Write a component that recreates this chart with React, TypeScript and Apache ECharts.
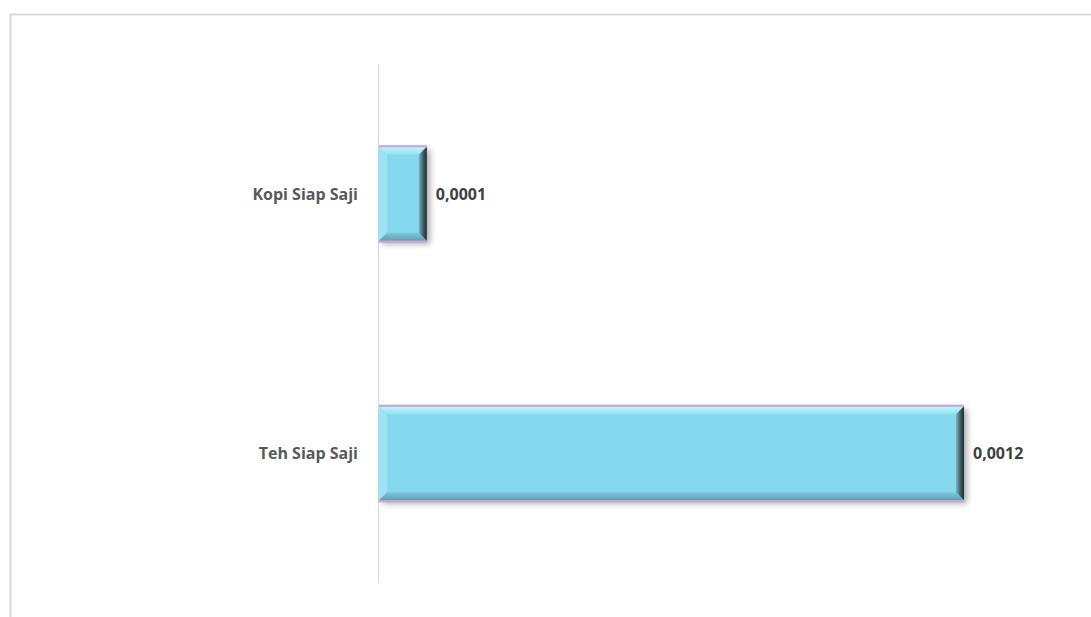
import React, { useEffect, useRef } from "react";
import * as echarts from "echarts";

const categories: string[] = ["Kopi Siap Saji", "Teh Siap Saji"];
const values: number[] = [0.0001, 0.0012];
const valueLabels: string[] = ["0,0001", "0,0012"];

export default function App() {
  const ref = useRef<HTMLDivElement>(null);
  useEffect(() => {
    if (!ref.current) return;
    const chart = echarts.init(ref.current, undefined, { renderer: "svg" });
    const data = values.map((v, i) => [v, i]);
    const option: any = {
      animation: false,
      backgroundColor: "#ffffff",
      grid: { left: 378, right: 127, top: 64, bottom: 34, containLabel: false },
      xAxis: { type: "value", min: 0, max: 0.0012, show: false },
      yAxis: {
        type: "category",
        data: categories,
        inverse: true,
        axisLine: { show: true, lineStyle: { color: "#d9d9d9", width: 1 } },
        axisTick: { show: false },
        axisLabel: {
          margin: 20,
          fontFamily: "Open Sans",
          fontWeight: "bold",
          fontSize: 16,
          color: "#595959",
        },
        splitLine: { show: false },
      },
      graphic: [
        { type: "line", shape: { x1: 10, y1: 14.5, x2: 1091, y2: 14.5 }, style: { stroke: "#d9d9d9", lineWidth: 2 } },
        { type: "line", shape: { x1: 10.5, y1: 14, x2: 10.5, y2: 617 }, style: { stroke: "#d9d9d9", lineWidth: 2 } },
      ],
      series: [
        {
          type: "custom",
          encode: { x: 0, y: 1 },
          data: data,
          renderItem: (params: any, api: any) => {
            const idx = api.value(1);
            const start = api.coord([0, idx]);
            const end = api.coord([api.value(0), idx]);
            const band = api.size([0, 1])[1];
            const h = band * 0.362;
            const x0 = start[0] + 1;
            const x1 = end[0];
            const y0 = start[1] - h / 2;
            const y1 = start[1] + h / 2;
            const b = 8;
            const label = valueLabels[params.dataIndex];
            return {
              type: "group",
              children: [
                {
                  type: "rect",
                  shape: { x: x0, y: y0, width: x1 - x0, height: y1 - y0 },
                  style: {
                    fill: "#86d8ee",
                    shadowBlur: 6,
                    shadowOffsetX: 3,
                    shadowOffsetY: 3,
                    shadowColor: "rgba(0,0,0,0.35)",
                  },
                },
                {
                  type: "polygon",
                  shape: { points: [[x0, y0], [x1, y0], [x1 - b, y0 + b], [x0 + b, y0 + b]] },
                  style: {
                    fill: new echarts.graphic.LinearGradient(0, 0, 0, 1, [
                      { offset: 0, color: "#c2f4fc" },
                      { offset: 1, color: "#96e0f2" },
                    ]),
                  },
                },
                {
                  type: "polygon",
                  shape: { points: [[x0, y0], [x0 + b, y0 + b], [x0 + b, y1 - b], [x0, y1]] },
                  style: { fill: "#9ee2f3" },
                },
                {
                  type: "polygon",
                  shape: { points: [[x0, y1], [x1, y1], [x1 - b, y1 - b], [x0 + b, y1 - b]] },
                  style: {
                    fill: new echarts.graphic.LinearGradient(0, 0, 0, 1, [
                      { offset: 0, color: "#7ccadd" },
                      { offset: 1, color: "#5d9fb0" },
                    ]),
                  },
                },
                {
                  type: "polygon",
                  shape: { points: [[x1, y0], [x1, y1], [x1 - b, y1 - b], [x1 - b, y0 + b]] },
                  style: {
                    fill: new echarts.graphic.LinearGradient(0, 0, 1, 0, [
                      { offset: 0, color: "#72b8c9" },
                      { offset: 0.5, color: "#40656f" },
                      { offset: 1, color: "#1e2a30" },
                    ]),
                  },
                },
                {
                  type: "line",
                  shape: { x1: x0, y1: y0 - 0.5, x2: x1, y2: y0 - 0.5 },
                  style: { stroke: "#c9a0d8", lineWidth: 2 },
                },
                {
                  type: "line",
                  shape: { x1: x0, y1: y1 + 1, x2: x1, y2: y1 + 1 },
                  style: { stroke: "#c9a0d8", lineWidth: 2 },
                },
                {
                  type: "text",
                  x: x1 + 9,
                  y: start[1],
                  style: {
                    text: label,
                    fill: "#404040",
                    font: "bold 16px 'Open Sans'",
                    align: "left",
                    verticalAlign: "middle",
                  },
                },
              ],
            };
          },
        },
      ],
    };
    chart.setOption(option);
    return () => chart.dispose();
  }, []);
  return (
    <div
      ref={ref}
      style={{ position: "fixed", left: 0, top: 0, width: 1091, height: 617 }}
    />
  );
}
